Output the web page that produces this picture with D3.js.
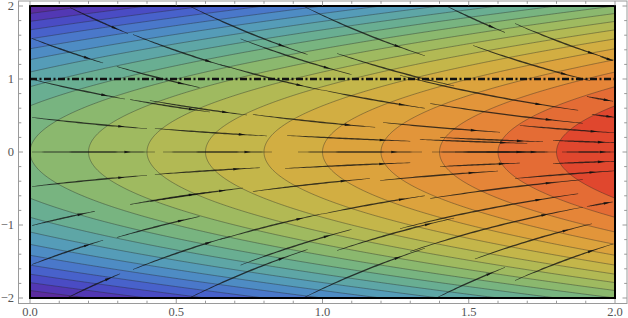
<!DOCTYPE html>
<html>
<head>
<meta charset="utf-8">
<script src="https://cdn.jsdelivr.net/npm/d3@7"></script>
<style>
body { margin: 0; background: #fff; }
svg { display: block; }
</style>
</head>
<body>
<div id="chart"></div>
<script>
// plot range and ticks
var xDomain = [0, 2], yDomain = [-2, 2];
var xMajor = [0, 0.5, 1, 1.5, 2];
var xTickLabels = ["0.0", "0.5", "1.0", "1.5", "2.0"];
var yMajor = [-2, -1, 0, 1, 2];
var yTickLabels = ["\u22122", "\u22121", "0", "1", "2"];

// density f(x,y) = x - y^2/2, stream field (1, -y)
var levels = [-2, -1.8, -1.6, -1.4, -1.2, -1, -0.8, -0.6, -0.4, -0.2,
  0, 0.2, 0.4, 0.6, 0.8, 1, 1.2, 1.4, 1.6, 1.8];
var bandColors = ["#5b2c9e", "#5238b4", "#4a4cc4", "#4862cb", "#4a78ca",
  "#4e8cc4", "#559cb8", "#5ea6a6", "#69ae92", "#78b480",
  "#8bb86e", "#9fba60", "#b2b954", "#c4b64a", "#d2ae42",
  "#dca33d", "#e2953a", "#e58538", "#e46c35", "#e0472e"];

// stream segments: [x start, y start, x end]
var streams = [
  [0.137, 1.979, 0.335], [0.352, 1.610, 0.684], [0.007, 1.555, 0.25],
  [0.297, 1.171, 0.58], [0.01, 0.993, 0.325], [0.342, 0.719, 0.615],
  [0.007, 0.473, 0.40], [0.007, 0, 0.427], [0.41, 0.705, 0.742],
  [0.762, 0.514, 1.18], [0.427, 0.322, 0.81], [0.879, 0.226, 1.30],
  [0.455, 0, 0.827], [0.916, 0, 1.34], [1.374, 0, 1.76],
  [0.427, -0.308, 0.786], [0.872, -0.226, 1.30], [0.41, -0.678, 0.728],
  [0.762, -0.541, 1.162], [1.197, -0.39, 1.60], [1.207, 0.404, 1.607],
  [1.333, 0.171, 1.7], [1.368, 0.664, 1.89], [1.921, 0.514, 2.0],
  [1.675, 0.363, 2.0], [1.402, 0.199, 1.754], [1.788, 0.158, 2.0],
  [1.453, 0, 1.80], [1.819, 0, 2.0], [1.402, -0.199, 1.675],
  [1.788, -0.158, 2.0], [1.658, -0.363, 2.0], [1.368, -0.637, 1.89],
  [1.424, 2.0, 1.624], [1.658, 1.76, 1.993], [1.515, 1.459, 1.915],
  [1.949, 1.308, 1.993], [1.265, 1.051, 1.874], [1.904, 0.760, 1.993],
  [1.265, -1.051, 1.874], [1.904, -0.747, 1.993], [1.30, -1.363, 1.89],
  [1.521, -1.466, 1.921], [1.389, -2.0, 1.624], [1.658, -1.76, 1.993],
  [0.13, -1.993, 0.308], [0.007, -1.541, 0.25], [0.007, -1.007, 0.222],
  [0.007, -0.473, 0.40], [0.352, -1.610, 0.684], [0.297, -1.171, 0.58],
  [0.342, -0.719, 0.615],
  [0.55, 1.99, 0.95], [0.72, 1.55, 1.1], [0.934, 2.0, 1.35], [0.65, 1.2, 1.0],
  [1.05, 1.35, 1.45], [1.0, 0.85, 1.35],
  [0.55, -1.99, 0.95], [0.72, -1.55, 1.1], [0.934, -2.0, 1.35], [0.65, -1.2, 1.0],
  [1.05, -1.35, 1.45], [1.0, -0.85, 1.35]
];
var dashLevel = 1;

var W = 628, H = 318;
var x = d3.scaleLinear().domain(xDomain).range([30, 615]);
var y = d3.scaleLinear().domain(yDomain).range([298, 6]);

var svg = d3.select("#chart").append("svg").attr("width", W).attr("height", H);

svg.append("clipPath").attr("id", "plotclip")
  .append("rect")
  .attr("x", x(0)).attr("y", y(2))
  .attr("width", x(2) - x(0)).attr("height", y(-2) - y(2));

var plot = svg.append("g").attr("clip-path", "url(#plotclip)");

// filled contours
var n = 400, m = 300;
var gx0 = -0.02, gx1 = 2.02, gy0 = -2.03, gy1 = 2.03;
var dx = (gx1 - gx0) / n, dy = (gy1 - gy0) / m;
var values = new Array(n * m);
for (var j = 0; j < m; j++) {
  for (var i = 0; i < n; i++) {
    var px = gx0 + (i + 0.5) * dx, py = gy0 + (j + 0.5) * dy;
    values[j * n + i] = px - py * py / 2;
  }
}
var proj = d3.geoTransform({
  point: function(gx, gy) {
    this.stream.point(x(gx0 + gx * dx), y(gy0 + gy * dy));
  }
});
var gpath = d3.geoPath(proj);
var contours = d3.contours().size([n, m]).thresholds(levels)(values);

plot.append("rect")
  .attr("x", x(0)).attr("y", y(2))
  .attr("width", x(2) - x(0)).attr("height", y(-2) - y(2))
  .attr("fill", bandColors[0]);

plot.selectAll("path.band")
  .data(contours)
  .enter().append("path")
  .attr("class", "band")
  .attr("d", gpath)
  .attr("fill", function(d, i) { return bandColors[i]; })
  .attr("stroke", "none");

plot.selectAll("path.cline")
  .data(contours.slice(1))
  .enter().append("path")
  .attr("class", "cline")
  .attr("d", gpath)
  .attr("fill", "none")
  .attr("stroke", "rgba(40,40,40,0.45)")
  .attr("stroke-width", 0.9);

// stream segments, tapered, with small arrowheads
function streamShape(s) {
  var k = 40, pts = [];
  for (var q = 0; q <= k; q++) {
    var xv = s[0] + (s[2] - s[0]) * q / k;
    pts.push([x(xv), y(s[1] * Math.exp(-(xv - s[0])))]);
  }
  var left = [], right = [];
  for (var q = 0; q <= k; q++) {
    var a = pts[Math.max(q - 1, 0)], b = pts[Math.min(q + 1, k)];
    var tx = b[0] - a[0], ty = b[1] - a[1], len = Math.hypot(tx, ty);
    var nx = -ty / len, ny = tx / len;
    var hw = 0.25 + 0.45 * Math.sin(Math.PI * q / k);
    left.push([pts[q][0] + nx * hw, pts[q][1] + ny * hw]);
    right.push([pts[q][0] - nx * hw, pts[q][1] - ny * hw]);
  }
  return "M" + left.concat(right.reverse()).map(function(p) { return p[0].toFixed(2) + "," + p[1].toFixed(2); }).join("L") + "Z";
}
function arrowShape(s) {
  var xa = s[0] + (s[2] - s[0]) * 0.78;
  var ya = s[1] * Math.exp(-(xa - s[0]));
  var slope = -ya; // dy/dx
  var sx = x(xa), sy = y(ya);
  var tx = x(1) - x(0), ty = -(slope) * (y(0) - y(1));
  var len = Math.hypot(tx, ty);
  tx /= len; ty /= len;
  var nx = -ty, ny = tx;
  var L = 3, B = 3.5, hw = 1.3;
  return "M" + (sx + tx * L) + "," + (sy + ty * L) +
    "L" + (sx - tx * B + nx * hw) + "," + (sy - ty * B + ny * hw) +
    "L" + (sx - tx * B - nx * hw) + "," + (sy - ty * B - ny * hw) + "Z";
}

plot.selectAll("path.stream")
  .data(streams)
  .enter().append("path")
  .attr("class", "stream")
  .attr("d", streamShape)
  .attr("fill", "rgba(20,20,20,0.8)");

plot.selectAll("path.arrow")
  .data(streams)
  .enter().append("path")
  .attr("class", "arrow")
  .attr("d", arrowShape)
  .attr("fill", "rgba(15,15,15,0.9)");

// dash-dot line at y = 1
plot.append("line")
  .attr("x1", x(0)).attr("x2", x(2))
  .attr("y1", y(dashLevel)).attr("y2", y(dashLevel))
  .attr("stroke", "#111")
  .attr("stroke-width", 2.4)
  .attr("stroke-dasharray", "7,2.5,2,2.5");

// black border of the plot region
svg.append("rect")
  .attr("x", x(0)).attr("y", y(2))
  .attr("width", x(2) - x(0)).attr("height", y(-2) - y(2))
  .attr("fill", "none").attr("stroke", "#000").attr("stroke-width", 2);

// outer frame with ticks
var fL = 18.5, fR = 627, fT = 1, fB = 303.5;
var frame = svg.append("g").attr("stroke", "#9a9a9a").attr("stroke-width", 1);
frame.append("rect").attr("x", fL).attr("y", fT).attr("width", fR - fL).attr("height", fB - fT).attr("fill", "none");

var xTicksAll = d3.range(0, 21).map(function(k) { return k / 10; });
var yTicksAll = d3.range(0, 21).map(function(k) { return -2 + k / 5; });

frame.selectAll("line.xb").data(xTicksAll).enter().append("line")
  .attr("x1", function(d) { return x(d); }).attr("x2", function(d) { return x(d); })
  .attr("y1", fB).attr("y2", function(d, i) { return fB - (i % 5 === 0 ? 4.5 : 2.8); });
frame.selectAll("line.xt").data(xTicksAll).enter().append("line")
  .attr("x1", function(d) { return x(d); }).attr("x2", function(d) { return x(d); })
  .attr("y1", fT).attr("y2", function(d, i) { return fT + (i % 5 === 0 ? 4.5 : 2.8); });
frame.selectAll("line.yl").data(yTicksAll).enter().append("line")
  .attr("y1", function(d) { return y(d); }).attr("y2", function(d) { return y(d); })
  .attr("x1", fL).attr("x2", function(d, i) { return fL + (i % 5 === 0 ? 4.5 : 2.8); });
frame.selectAll("line.yr").data(yTicksAll).enter().append("line")
  .attr("y1", function(d) { return y(d); }).attr("y2", function(d) { return y(d); })
  .attr("x1", fR).attr("x2", function(d, i) { return fR - (i % 5 === 0 ? 4.5 : 2.8); });

var labels = svg.append("g")
  .attr("font-family", "'Liberation Serif', 'DejaVu Serif', serif")
  .attr("font-size", 12.5).attr("fill", "#555");

labels.selectAll("text.xl").data(xMajor).enter().append("text")
  .attr("x", function(d) { return x(d); }).attr("y", 316)
  .attr("text-anchor", "middle")
  .text(function(d, i) { return xTickLabels[i]; });

labels.selectAll("text.yl").data(yMajor).enter().append("text")
  .attr("x", 14).attr("y", function(d) { return y(d) + 4.3; })
  .attr("text-anchor", "end")
  .text(function(d, i) { return yTickLabels[i]; });
</script>
</body>
</html>
